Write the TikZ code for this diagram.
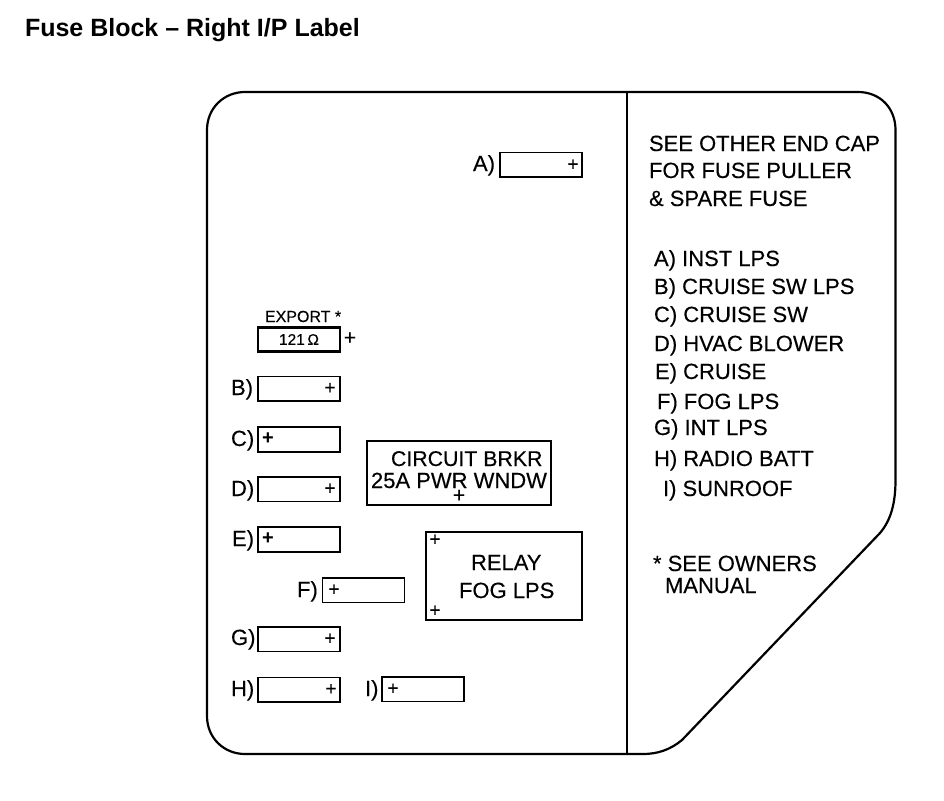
\documentclass[tikz,border=0pt]{standalone}
\usepackage{fontspec}
\setmainfont{Liberation Sans}
\newfontfamily\heavyfont[FakeBold=0.25]{Liberation Sans}
\tikzset{
  x=1pt,y=-1pt,
  fusebox/.style={draw=black,line width=1.5pt,minimum width=82pt,minimum height=24.5pt,inner sep=0pt,outer sep=0pt},
  heavybox/.style={fusebox,line width=2.2pt},
  bigbox/.style={draw=black,line width=1.8pt,inner sep=0pt,outer sep=0pt},
  lbl/.style={anchor=base west,inner sep=0pt,outer sep=0pt,font=\heavyfont\fontsize{22}{22}\selectfont},
  plus/.style={inner sep=0pt,outer sep=0pt,font=\heavyfont\fontsize{19}{19}\selectfont},
  boldplus/.style={plus,font=\fontsize{20}{20}\selectfont\bfseries},
}
\begin{document}
\begin{tikzpicture}
\useasboundingbox (0,0) rectangle (944,800);
\node[lbl,font=\fontsize{25}{25}\selectfont\bfseries] (title) at (25,37) {Fuse Block – Right I/P Label};
% outline
\draw[line width=2.2pt,line join=round] (207,130) .. controls (207,108) and (224,92) .. (245,92)
  -- (858,92) .. controls (880,92) and (895.5,108) .. (895.5,130)
  -- (895.5,480) .. controls (895.5,503) and (891,520) .. (880,533)
  -- (682,740) .. controls (670,750) and (657,754) .. (643,754)
  -- (245,754) .. controls (224,754) and (207,738) .. (207,716) -- cycle;
\coordinate (divtop) at (627,92);
\coordinate (divbot) at (627,754);
\draw[line width=1.8pt] (divtop) -- (divbot);
% left fuses
\node[fusebox] (boxA) at (541,164.5) {};
\node[lbl] (tA) at (473,171) {A)};
\node[plus] (pA) at (573,165) {+};
\node[lbl,font=\heavyfont\fontsize{16}{16}\selectfont] (exp) at (265,322) {EXPORT *};
\node[heavybox,minimum height=24pt] (boxX) at (299,339.5) {\heavyfont\fontsize{15.5}{15.5}\selectfont 121\,Ω};
\node[plus,font=\heavyfont\fontsize{21}{21}\selectfont] (pX) at (350,338.5) {+};
\node[fusebox] (boxB) at (299,388.5) {};
\node[lbl] (tB) at (231,395) {B)};
\node[plus] (pB) at (330,388.5) {+};
\node[heavybox] (boxC) at (299,439.5) {};
\node[lbl] (tC) at (231,446) {C)};
\node[boldplus] (pC) at (268,438.5) {+};
\node[fusebox] (boxD) at (299,489) {};
\node[lbl] (tD) at (231,496) {D)};
\node[plus] (pD) at (330,489) {+};
\node[heavybox] (boxE) at (299,539.5) {};
\node[lbl] (tE) at (232,546) {E)};
\node[boldplus] (pE) at (268,539) {+};
\node[fusebox] (boxF) at (363.5,590) {};
\node[lbl] (tF) at (297,597) {F)};
\node[plus] (pF) at (334,590) {+};
\node[fusebox] (boxG) at (299,639) {};
\node[lbl] (tG) at (231,645) {G)};
\node[plus] (pG) at (330,639) {+};
\node[fusebox] (boxH) at (299,689.5) {};
\node[lbl] (tH) at (231,696) {H)};
\node[plus] (pH) at (331,689.5) {+};
\node[fusebox] (boxI) at (423,689) {};
\node[lbl] (tI) at (365,696) {I)};
\node[plus] (pI) at (393,689) {+};
% circuit breaker
\node[bigbox,minimum width=184pt,minimum height=64pt] (cb) at (459,473) {};
\node[lbl,font=\heavyfont\fontsize{21.3}{21.3}\selectfont] (cb1) at (391,466) {CIRCUIT BRKR};
\node[lbl] (cb2) at (371,488) {25A PWR WNDW};
\node[plus,font=\heavyfont\fontsize{21}{21}\selectfont] (pcb) at (459,496) {+};
% relay
\node[bigbox,minimum width=156pt,minimum height=88pt] (rel) at (504,576) {};
\node[lbl] (r1) at (471,570) {RELAY};
\node[lbl] (r2) at (459,598) {FOG LPS};
\node[plus] (pr1) at (435,540) {+};
\node[plus] (pr2) at (435,611) {+};
% right legend
\node[lbl] (n1) at (649,151) {SEE OTHER END CAP};
\node[lbl] (n2) at (649,178) {FOR FUSE PULLER};
\node[lbl] (n3) at (649,206) {\& SPARE FUSE};
\node[lbl] (la) at (654,266) {A) INST LPS};
\node[lbl] (lb) at (654,294) {B) CRUISE SW LPS};
\node[lbl] (lc) at (654,322) {C) CRUISE SW};
\node[lbl] (ld) at (654,351) {D) HVAC BLOWER};
\node[lbl] (le) at (655,379) {E) CRUISE};
\node[lbl] (lf) at (657,409) {F) FOG LPS};
\node[lbl] (lg) at (654,435) {G) INT LPS};
\node[lbl] (lh) at (654,466) {H) RADIO BATT};
\node[lbl] (li) at (663,496) {I) SUNROOF};
\node[lbl] (s1) at (653,571) {* SEE OWNERS};
\node[lbl] (s2) at (665,593) {MANUAL};
\end{tikzpicture}
\end{document}
